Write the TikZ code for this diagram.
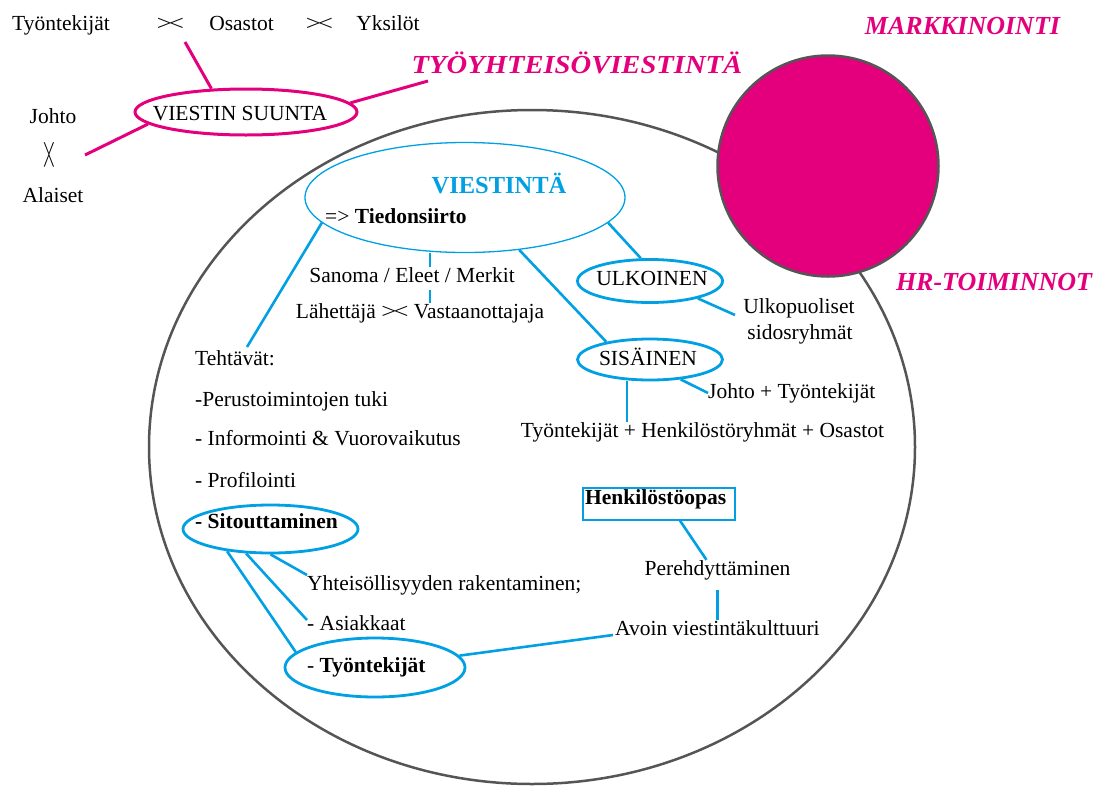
\documentclass[tikz,border=0pt]{standalone}
\usepackage{fontspec}
\usepackage{graphicx}
\setmainfont{Liberation Serif}
\usetikzlibrary{shapes.geometric}
\definecolor{mag}{RGB}{228,0,124}
\definecolor{skyb}{RGB}{0,160,227}
\definecolor{rimgray}{RGB}{85,85,85}
\newcommand{\vsgl}{\scalebox{1.25}[1]{>\kern-2.5pt<}}
\begin{document}
\begin{tikzpicture}[x=1pt,y=-1pt,
  txt/.style={inner sep=0pt, anchor=base, font=\fontsize{21.5}{26}\selectfont},
  txtl/.style={txt, anchor=base west},
  hdr/.style={inner sep=0pt, anchor=base, text=mag, font=\fontsize{26}{30}\selectfont\bfseries\itshape},
  bell/.style={ellipse, draw=skyb, line width=2.8pt, inner sep=0pt},
  bln/.style={draw=skyb, line width=2.6pt},
  mln/.style={draw=mag, line width=3pt},
]
\useasboundingbox (0,0) rectangle (1101,785);

% outer frame and marketing circle
\node[ellipse, draw=rimgray, line width=2.5pt, minimum width=766pt, minimum height=674pt, inner sep=0pt, outer sep=0pt] (outer) at (532,447) {};
\node[circle, fill=mag, draw=rimgray, line width=2.5pt, minimum size=221pt, inner sep=0pt] (mk) at (828,166) {};

% headers
\node[hdr] (markk) at (962.5,34) {MARKKINOINTI};
\node[hdr] (hr) at (994,290) {HR-TOIMINNOT};
\node[hdr] (tyo) at (577,73) {\scalebox{1.1}[1]{TYÖYHTEISÖVIESTINTÄ}};

% top left
\node[txt] (t1) at (61,30) {Työntekijät};
\node[txt] (x1) at (170.5,30) {\vsgl};
\node[txt] (t2) at (241.5,30) {Osastot};
\node[txt] (x2) at (319.5,30) {\vsgl};
\node[txt] (t3) at (388,30) {Yksilöt};
\node[txt] (johto) at (53,123) {Johto};
\node[txt, anchor=center, rotate=90] (x3) at (50,155) {\vsgl};
\node[txt] (alaiset) at (53,202) {Alaiset};

\node[ellipse, draw=mag, line width=3pt, minimum width=222pt, minimum height=46pt, inner sep=0pt] (vs) at (246,112) {};
\node[txt] (vstxt) at (240,120) {VIESTIN SUUNTA};

\coordinate (m1) at (185,42);
\coordinate (m2) at (428,81);
\coordinate (m3) at (85,155);
\draw[mln] (vs.146) -- (m1);
\draw[mln] (vs.5.5) -- (m2);
\draw[mln] (vs.187) -- (m3);

% VIESTINTA
\node[ellipse, draw=skyb, line width=1.3pt, minimum width=320pt, minimum height=110pt, inner sep=0pt] (vie) at (465,197.5) {};
\node[txt, font=\fontsize{24.5}{28}\selectfont\bfseries, text=skyb] (vietxt) at (499,193) {VIESTINTÄ};
\node[txtl] (tied) at (325,223) {=> \textbf{Tiedonsiirto}};

\node[txt] (san) at (412,282) {Sanoma / Eleet / Merkit};
\node[txt] (lah) at (420,318) {Lähettäjä \vsgl{} Vastaanottajaja};
\coordinate (vx) at (430,0);
\coordinate (sb) at ([yshift=-8pt]san.south);
\draw[bln] (vie.south -| vx) -- (san.north -| vx);
\draw[bln] (sb -| vx) -- (lah.north -| vx);

% ULKOINEN
\node[bell, minimum width=145pt, minimum height=43pt] (ulk) at (650,281) {};
\node[txt] (ulktxt) at (652,285) {ULKOINEN};
\node[txt] (ulko1) at (799,313) {Ulkopuoliset};
\node[txt] (ulko2) at (800,339) {sidosryhmät};
\coordinate (u1) at (735,315);
\draw[bln] (vie.350.4) -- (ulk.112);
\draw[bln] (ulk.340) -- (u1);

% SISAINEN
\node[bell, minimum width=145pt, minimum height=41pt] (sis) at (650,359.5) {};
\node[txt] (sistxt) at (648,365) {SISÄINEN};
\node[txtl] (jt) at (708,398) {Johto + Työntekijät};
\node[txt] (thk) at (702.5,437) {Työntekijät + Henkilöstöryhmät + Osastot};
\coordinate (j1) at (708,393);
\coordinate (sx) at (627,0);
\draw[bln] (vie.316.8) -- (sis.158);
\draw[bln] (sis.327) -- (j1);
\draw[bln] (sis.south -| sx) -- (thk.north -| sx);

% Tehtavat
\node[txtl] (teh) at (195,365) {Tehtävät:};
\node[txtl] (p1) at (195,406) {-Perustoimintojen tuki};
\node[txtl] (p2) at (195,445) {- Informointi \& Vuorovaikutus};
\node[txtl] (p3) at (195,487) {- Profilointi};
\coordinate (te1) at (247,347);
\draw[bln] (vie.190.2) -- (te1);

% Sitouttaminen
\node[bell, minimum width=175pt, minimum height=48pt] (sit) at (270.5,529) {};
\node[txtl] (sittxt) at (195,528) {\textbf{- Sitouttaminen}};
\node[txtl] (yht) at (307,590) {Yhteisöllisyyden rakentaminen;};
\node[txtl] (asi) at (307,630) {- Asiakkaat};
\node[bell, minimum width=180pt, minimum height=59pt] (tyoell) at (375,667.5) {};
\node[txtl] (tyotxt) at (307,672) {- \textbf{Työntekijät}};
\coordinate (y1) at (307,575);
\coordinate (a1) at (307,620);
\draw[bln] (sit.south) -- (y1);
\draw[bln] (sit.225.6) -- (a1);
\draw[bln] (sit.207) -- (tyoell.169);

% HR side
\node[txtl] (avo) at (615,635) {Avoin viestintäkulttuuri};
\coordinate (av1) at (613,635);
\draw[bln] (tyoell.8) -- (av1);
\node[draw=skyb, line width=1.3pt, minimum width=152pt, minimum height=32pt, inner sep=0pt] (hop) at (659,504) {};
\node[txtl] (hoptxt) at (585,504) {\textbf{Henkilöstöopas}};
\node[txt] (per) at (717.5,575) {Perehdyttäminen};
\coordinate (pb) at ([yshift=-10pt]per.south);
\draw[bln] ([xshift=21pt]hop.south) -- ([xshift=-11pt]per.north);
\draw[bln] (pb) -- (avo.north -| pb);
\end{tikzpicture}
\end{document}
